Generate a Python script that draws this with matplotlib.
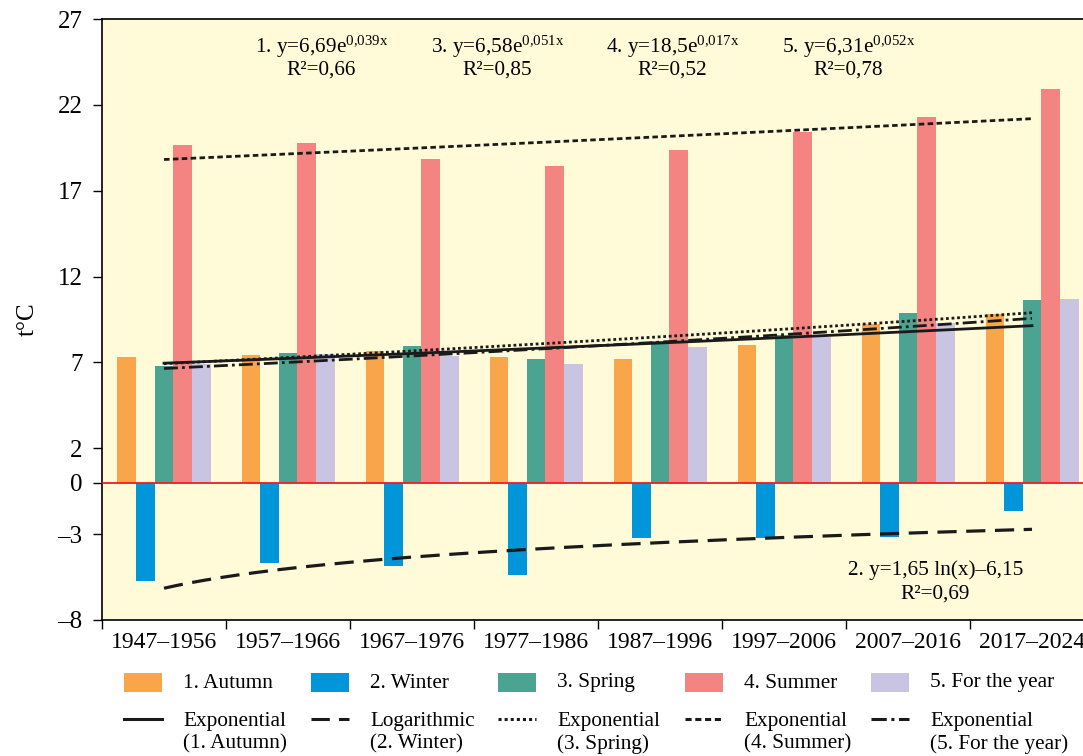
import numpy as np
import matplotlib
matplotlib.use("Agg")
import matplotlib.pyplot as plt
from matplotlib.patches import Rectangle
from matplotlib.lines import Line2D

plt.rcParams['font.family'] = ['Liberation Serif', 'DejaVu Serif']
plt.rcParams['mathtext.fontset'] = 'custom'
plt.rcParams['mathtext.rm'] = 'Liberation Serif'
plt.rcParams['mathtext.it'] = 'Liberation Serif:italic'

periods = ["1947–1956", "1957–1966", "1967–1976", "1977–1986",
           "1987–1996", "1997–2006", "2007–2016", "2017–2024"]
autumn = [7.3, 7.45, 7.65, 7.3, 7.2, 8.0, 9.25, 9.8]
winter = [-5.7, -4.7, -4.85, -5.4, -3.25, -3.2, -3.15, -1.65]
spring = [6.8, 7.55, 7.95, 7.2, 8.25, 8.6, 9.9, 10.65]
summer = [19.65, 19.75, 18.85, 18.45, 19.4, 20.4, 21.3, 22.9]
year = [6.9, 7.5, 7.4, 6.9, 7.9, 8.5, 9.3, 10.7]

series_names = ["1. Autumn", "2. Winter", "3. Spring", "4. Summer", "5. For the year"]
colors = ["#F9A54A", "#0096D9", "#4BA392", "#F48482", "#C8C4E2"]

# trend equations as printed on the chart
exp_autumn = (6.69, 0.039)
log_winter = (1.65, -6.15)
exp_spring = (6.58, 0.051)
exp_summer = (18.5, 0.017)
exp_year = (6.31, 0.052)

yticks = [27, 22, 17, 12, 7, 2, 0, -3, -8]

W, H = 1083, 756
fig = plt.figure(figsize=(W / 100, H / 100), dpi=100)
ax = fig.add_axes([102 / W, (H - 620) / H, 992 / W, 601 / H])
ax.set_facecolor("#FFFBD8")

x = np.arange(len(periods))
bw = 0.15
data = [autumn, winter, spring, summer, year]
for i, (vals, c) in enumerate(zip(data, colors)):
    ax.bar(x + (i - 2) * bw, vals, width=bw, color=c, zorder=2)

ax.axhline(0, color="#EE1C24", lw=1.3, zorder=3)

line_color = "#1a1a1a"
styles = ["-", (0, (6, 3)), (0, (1, 1)), (0, (2, 1.2)), (0, (5, 1.5, 1, 1.5))]
xs = np.linspace(1, 8, 200)
xp = xs - 1
trends = [
    exp_autumn[0] * np.exp(exp_autumn[1] * xs),
    log_winter[0] * np.log(xs) + log_winter[1],
    exp_spring[0] * np.exp(exp_spring[1] * xs),
    exp_summer[0] * np.exp(exp_summer[1] * xs),
    exp_year[0] * np.exp(exp_year[1] * xs),
]
widths = [2.0, 2.3, 2.0, 2.0, 2.0]
for tr, ls, lw in zip(trends, styles, widths):
    ax.plot(xp, tr, color=line_color, lw=lw, ls=ls, zorder=4)

ax.set_xlim(-0.5, 7.5)
ax.set_ylim(-8, 27)
ax.set_yticks(yticks)
ax.set_yticklabels([str(t).replace("-", "–") for t in yticks])
ax.set_xticks(np.arange(len(periods) + 1) - 0.5)
ax.set_xticklabels([])
ax.set_xticks(x, minor=True)
ax.set_xticklabels(periods, minor=True)
ax.tick_params(axis="x", which="minor", length=0, labelsize=17, pad=9)
ax.tick_params(axis="x", which="major", length=6.5, width=1)
ax.tick_params(axis="y", length=6.5, width=1, labelsize=18, pad=7.5)
for s in ["left", "bottom", "top"]:
    ax.spines[s].set_linewidth(1.2)
ax.spines["right"].set_visible(False)
ax.set_ylabel("t°C", fontsize=18)
ax.yaxis.set_label_coords(-0.064, 0.5)

ann_fs = 15.3
labels_top = [
    (1.27, r"1. y=6,69e$^{\mathrm{0{,}039x}}$", "R²=0,66"),
    (2.69, r"3. y=6,58e$^{\mathrm{0{,}051x}}$", "R²=0,85"),
    (4.10, r"4. y=18,5e$^{\mathrm{0{,}017x}}$", "R²=0,52"),
    (5.52, r"5. y=6,31e$^{\mathrm{0{,}052x}}$", "R²=0,78"),
]
for xc, l1, l2 in labels_top:
    ax.text(xc, 25.4, l1, ha="center", va="center", fontsize=ann_fs, zorder=5)
    ax.text(xc, 24.0, l2, ha="center", va="center", fontsize=ann_fs, zorder=5)
ax.text(6.22, -5.1, "2. y=1,65 ln(x)–6,15", ha="center", va="center", fontsize=ann_fs, zorder=5)
ax.text(6.22, -6.5, "R²=0,69", ha="center", va="center", fontsize=ann_fs, zorder=5)

# legend (two rows, five columns)
line_labels = ["Exponential\n(1. Autumn)", "Logarithmic\n(2. Winter)", "Exponential\n(3. Spring)",
               "Exponential\n(4. Summer)", "Exponential\n(5. For the year)"]
col_x = [124, 311, 498, 685, 871]
leg_fs = 15.3
for cx, name, c, ls, ll in zip(col_x, series_names, colors, styles, line_labels):
    fig.add_artist(Rectangle((cx / W, 1 - 692 / H), 38 / W, 19 / H,
                             transform=fig.transFigure, facecolor=c, edgecolor="none"))
    fig.text((cx + 59) / W, 1 - 683 / H, name, ha="left", va="center", fontsize=leg_fs)
    fig.add_artist(Line2D([cx / W, (cx + 38) / W], [1 - 719 / H, 1 - 719 / H],
                          transform=fig.transFigure, color=line_color, lw=2.2, ls=ls))
    fig.text((cx + 59) / W, 1 - 733 / H, ll, ha="left", va="center", fontsize=leg_fs,
             linespacing=1.2)

fig.savefig("out.png", dpi=100)
